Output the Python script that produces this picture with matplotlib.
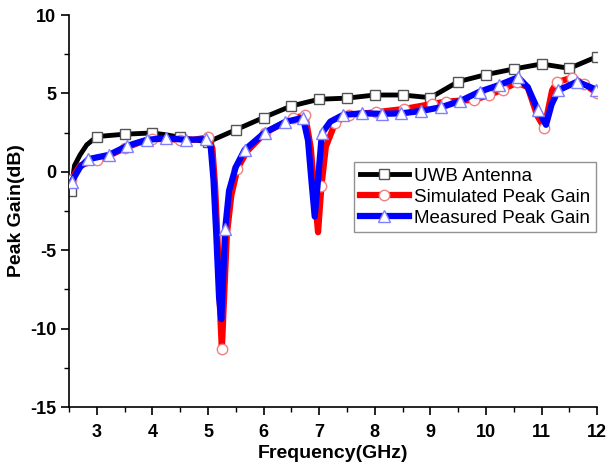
import matplotlib
matplotlib.use("Agg")
import matplotlib.pyplot as plt

# UWB Antenna (black, squares)
uwb_f = [2.54, 2.6, 2.7, 2.82, 3.0, 3.5, 4.0, 4.25, 4.5, 5.0, 5.5, 6.0, 6.5, 7.0, 7.5, 8.0, 8.5, 9.0, 9.5,
         10.0, 10.5, 11.0, 11.5, 12.0]
uwb_g = [-1.2, 0.4, 1.08, 1.72, 2.25, 2.4, 2.48, 2.36, 2.2, 1.9, 2.68, 3.46, 4.2, 4.63, 4.7, 4.9, 4.9, 4.73, 5.75,
         6.2, 6.56, 6.88, 6.6, 7.35]
uwb_marks = [0, 4, 5, 6, 8, 9, 10, 11, 12, 13, 14, 15, 16, 17, 18, 19, 20, 21, 22, 23]

# Simulated Peak Gain (red, circles)
sim_f = [2.54, 2.7, 3.0, 3.2, 3.5, 3.75, 4.0, 4.25, 4.5, 4.75, 5.0, 5.08, 5.13, 5.18, 5.22, 5.25, 5.29, 5.34,
         5.42, 5.53, 5.7, 6.03, 6.3, 6.53, 6.75, 6.85, 6.92, 6.98, 7.04, 7.12, 7.29, 7.53, 8.02, 8.53, 9.03,
         9.28, 9.79, 10.06, 10.3, 10.56, 10.75, 10.92, 11.05, 11.19, 11.28, 11.55, 11.77, 12.0]
sim_g = [-0.5, 0.4, 0.76, 1.0, 1.5, 1.85, 2.08, 2.1, 2.04, 2.05, 2.19, 1.5, -1.0, -5.0, -9.0, -11.3, -8.0, -4.0,
         -1.5, 0.2, 1.3, 2.5, 3.0, 3.42, 3.6, 1.5, -1.5, -3.85, -0.93, 1.6, 3.14, 3.63, 3.8, 4.01, 4.33,
         4.48, 4.6, 4.9, 5.25, 5.7, 5.4, 3.6, 2.8, 5.2, 5.73, 6.0, 5.6, 5.0]
sim_marks = [0, 2, 4, 6, 8, 10, 15, 19, 21, 23, 24, 28, 30, 31, 32, 33, 34, 35, 36, 37, 38, 39, 42, 44, 45, 46, 47]

# Measured Peak Gain (blue, triangles)
meas_f = [2.55, 2.7, 2.85, 3.22, 3.55, 3.9, 4.25, 4.6, 4.97, 5.05, 5.1, 5.15, 5.2, 5.24, 5.27, 5.31, 5.38,
          5.5, 5.66, 6.02, 6.38, 6.71, 6.8, 6.86, 6.92, 6.98, 7.05, 7.2, 7.43, 7.77, 8.13, 8.48, 8.83, 9.19,
          9.54, 9.89, 10.24, 10.58, 10.75, 10.93, 11.08, 11.18, 11.3, 11.64, 11.98]
meas_g = [-0.62, 0.3, 0.81, 1.08, 1.66, 2.04, 2.15, 2.04, 2.08, 1.6, -0.5, -4.0, -8.0, -9.4, -7.0, -3.65,
          -1.2, 0.3, 1.4, 2.5, 3.17, 3.45, 2.0, -0.5, -2.85, -0.5, 2.46, 3.2, 3.63, 3.73, 3.7, 3.73, 3.88,
          4.12, 4.52, 5.12, 5.54, 6.03, 5.4, 3.97, 3.0, 4.3, 5.2, 5.75, 5.25]
meas_marks = [0, 2, 3, 4, 5, 6, 7, 8, 15, 18, 19, 20, 21, 26, 28, 29, 30, 31, 32, 33, 34, 35, 36, 37, 39, 42, 43, 44]

xticks = [3, 4, 5, 6, 7, 8, 9, 10, 11, 12]
yticks = [-15, -10, -5, 0, 5, 10]

plt.rcParams['font.family'] = ['Liberation Sans', 'DejaVu Sans']
plt.rcParams['axes.unicode_minus'] = False

fig = plt.figure(figsize=(6.1, 4.7), dpi=100)
ax = fig.add_axes([0.113, 0.134, 0.866, 0.834])

ax.plot(uwb_f, uwb_g, color='black', lw=3.5, marker='s', ms=7, mfc='white', mec='#555555', mew=1.0,
        markevery=uwb_marks, label='UWB Antenna', zorder=2)
ax.plot(sim_f, sim_g, color='#ff0000', lw=4.5, marker='o', ms=7.5, mfc='white', mec='#f08080', mew=1.0,
        markevery=sim_marks, label='Simulated Peak Gain', zorder=3)
ax.plot(meas_f, meas_g, color='#0000ff', lw=4.5, marker='^', ms=8, mfc='white', mec='#8080ff', mew=1.0,
        markevery=meas_marks, label='Measured Peak Gain', zorder=4)

ax.set_xlim(2.5, 12)
ax.set_ylim(-15, 10)
ax.set_xticks(xticks)
ax.set_yticks(yticks)
ax.set_xticks([x + 0.5 for x in [2] + xticks[:-1]], minor=True)
ax.set_yticks([-12.5, -7.5, -2.5, 2.5, 7.5], minor=True)
ax.tick_params(axis='both', which='major', direction='out', length=6, width=1.2, labelsize=13)
ax.tick_params(axis='x', which='major', pad=6)
ax.tick_params(axis='y', which='major', pad=3)
ax.tick_params(axis='both', which='minor', direction='out', length=3.5, width=1.0)
for lbl in ax.get_xticklabels() + ax.get_yticklabels():
    lbl.set_fontweight('bold')
ax.spines['top'].set_visible(False)
ax.spines['right'].set_visible(False)
ax.spines['left'].set_linewidth(1.2)
ax.spines['bottom'].set_linewidth(1.2)

ax.set_xlabel('Frequency(GHz)', fontsize=14, fontweight='bold', labelpad=3)
ax.set_ylabel('Peak Gain(dB)', fontsize=14, fontweight='bold', labelpad=4)

leg = ax.legend(loc='upper left', bbox_to_anchor=(0.54, 0.625), fontsize=13.5, frameon=True, fancybox=False,
                edgecolor='#777777', handlelength=2.6, handletextpad=0.3, borderpad=0.3, labelspacing=0.2,
                borderaxespad=0)
leg.get_frame().set_linewidth(1.0)

fig.savefig('out.png', dpi=100)
